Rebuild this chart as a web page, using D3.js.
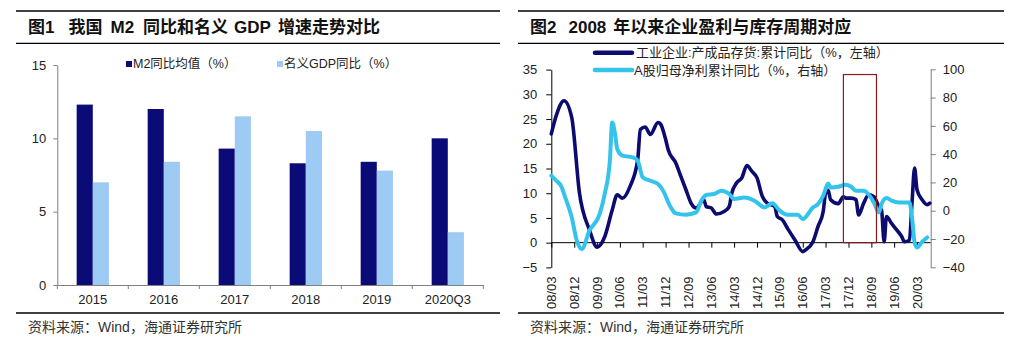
<!DOCTYPE html>
<html><head><meta charset="utf-8">
<script src="https://cdn.jsdelivr.net/npm/d3@7/dist/d3.min.js"></script>
<style>
html,body{margin:0;padding:0;background:#fff;}
svg{display:block;}
text{font-family:"Liberation Sans","Noto Sans CJK SC",Arial,sans-serif;}
</style></head>
<body>
<svg id="chart" width="1012" height="351"></svg>
<script>
// ---------- Chart 1 data ----------
const barCategories = ["2015","2016","2017","2018","2019","2020Q3"];
const m2Values  = [12.3, 12.0, 9.3, 8.3, 8.4, 10.0];
const gdpValues = [7.0, 8.4, 11.5, 10.5, 7.8, 3.6];
const barSeriesNames = ["M2同比均值（%）","名义GDP同比（%）"];
const barYTicks = [0,5,10,15];
const title1Parts = ["图1","我国","M2","同比和名义","GDP","增速走势对比"];

// ---------- Chart 2 data ----------
const invMonths = ["2008-03","2008-05","2008-08","2008-11","2009-02","2009-06","2009-09","2009-12","2010-03","2010-05","2010-07","2010-10","2011-01","2011-02","2011-04","2011-06","2011-09","2011-10","2011-12","2012-01","2012-04","2012-06","2012-08","2012-10","2012-12","2013-03","2013-04","2013-06","2013-08","2013-11","2014-01","2014-02","2014-04","2014-06","2014-08","2014-10","2014-12","2015-02","2015-04","2015-07","2015-08","2015-10","2015-12","2016-03","2016-06","2016-07","2016-10","2016-12","2017-02","2017-03","2017-04","2017-05","2017-08","2017-10","2017-11","2018-01","2018-03","2018-04","2018-06","2018-08","2018-10","2018-12","2019-01","2019-02","2019-03","2019-05","2019-07","2019-09","2019-10","2019-12","2020-01","2020-02","2020-03","2020-05","2020-07","2020-08"];
const invValues = [22.0,25.8,28.7,25.3,10.1,2.6,-0.9,1.2,6.6,9.7,9.0,11.4,16.8,22.9,23.4,21.9,24.3,24.0,20.9,18.8,16.1,13.4,10.7,8.0,7.0,8.7,7.3,7.0,5.8,6.3,7.3,10.0,12.1,13.1,15.6,14.4,13.1,9.4,8.0,7.3,5.3,4.6,2.9,0.5,-1.8,-1.5,0.2,3.3,6.3,10.0,10.6,8.7,7.9,9.3,9.0,9.0,8.7,5.6,8.0,9.7,9.3,7.3,6.6,0.2,5.3,3.9,2.6,1.2,0.2,0.5,8.0,15.1,10.7,8.7,7.7,8.0];

const profMonths = ["2008-03","2008-05","2008-07","2008-08","2008-11","2009-01","2009-03","2009-06","2009-10","2009-12","2010-02","2010-03","2010-04","2010-05","2010-07","2010-11","2011-01","2011-03","2011-06","2011-09","2011-11","2012-02","2012-04","2012-08","2012-12","2013-02","2013-04","2013-07","2013-10","2014-01","2014-03","2014-07","2014-11","2015-03","2015-06","2015-09","2015-12","2016-04","2016-06","2016-10","2016-12","2017-02","2017-04","2017-05","2017-08","2017-11","2018-01","2018-03","2018-06","2018-08","2018-10","2018-12","2019-01","2019-03","2019-05","2019-08","2019-12","2020-01","2020-02","2020-03","2020-05","2020-07"];
const profValues = [24.8,21.2,17.0,11.8,-4.7,-21.2,-27.1,-14.1,-2.4,11.8,35.4,62.4,55.4,43.6,38.9,37.7,35.4,23.6,21.2,18.9,14.1,2.4,-1.9,-2.8,-1.2,7.1,11.1,11.8,14.1,11.8,8.3,9.4,7.1,2.3,5.2,0.0,-2.8,-2.8,-5.9,2.3,4.7,10.6,19.3,16.5,17.0,18.4,17.0,14.1,14.1,11.3,5.9,-1.2,4.7,9.0,7.1,5.9,5.9,-4.7,-22.4,-26.0,-22.0,-18.9];

const lineTickLabels = ["08/03","08/12","09/09","10/06","11/03","11/12","12/09","13/06","14/03","14/12","15/09","16/06","17/03","17/12","18/09","19/06","20/03"];
const leftYTicks = [-5,0,5,10,15,20,25,30,35];
const rightYTicks = [-40,-20,0,20,40,60,80,100];
const lineSeriesNames = ["工业企业:产成品存货:累计同比（%，左轴）","A股归母净利累计同比（%，右轴）"];
const title2Parts = ["图2","2008","年以来企业盈利与库存周期对应"];
const highlightPeriod = ["2017-10","2018-11"];
const highlightRange = [0, 34];

// ---------- styles ----------
const NAVY_BAR = "#0b0b78", LIGHT_BAR = "#9dcbf3";
const NAVY_LINE = "#0c0c70", CYAN_LINE = "#34c3ea";

const svg = d3.select("#chart");

// ---------- headers & rules ----------
function header(x0, x1, tx, parts, gaps, sx) {
  [11, 43.3, 313].forEach(yy=>{
    svg.append("line").attr("x1",x0).attr("x2",x1).attr("y1",yy).attr("y2",yy).attr("stroke","#000").attr("stroke-width",1.3);
  });
  const t = svg.append("text").attr("x",tx).attr("y",27).attr("dy","0.35em").attr("font-size",17)
    .attr("font-weight","bold").attr("fill","#111");
  parts.forEach((p,i)=>{ t.append("tspan").attr("dx", i===0?0:gaps[i-1]).text(p); });
  svg.append("text").attr("x",sx).attr("y",327).attr("dy","0.35em").attr("font-size",14).attr("fill","#333").text("资料来源：Wind，海通证券研究所");
}
header(16, 500, 28, title1Parts, [14,8,9,6,7], 28);
header(518, 1004, 530, title2Parts, [12,7], 530);

// ---------- Chart 1: grouped bars ----------
{
  const x = d3.scaleBand().domain(barCategories).range([57.3, 483.3]).paddingInner(0).paddingOuter(0);
  const x1 = d3.scaleBand().domain([0,1]).range([0, x.bandwidth()]).paddingOuter(1.2).paddingInner(0);
  const y = d3.scaleLinear().domain([0,15]).range([285, 65]);
  const g = svg.append("g");
  const rows = barCategories.map((c,i)=>({c, v:[m2Values[i], gdpValues[i]]}));
  const colors = [NAVY_BAR, LIGHT_BAR];
  g.selectAll("g.grp").data(rows).join("g").attr("transform",d=>`translate(${x(d.c)},0)`)
    .selectAll("rect").data(d=>d.v.map((v,k)=>({v,k}))).join("rect")
    .attr("x",d=>x1(d.k)).attr("width",x1.bandwidth())
    .attr("y",d=>y(d.v)).attr("height",d=>y(0)-y(d.v)).attr("fill",d=>colors[d.k]);

  const ya = g.append("g").attr("transform","translate(57.3,0)")
    .call(d3.axisLeft(y).tickValues(barYTicks).tickSize(4).tickSizeOuter(0).tickPadding(7));
  ya.select(".domain").attr("stroke","#808080");
  ya.selectAll(".tick line").attr("stroke","#808080");
  ya.selectAll("text").attr("font-size",13).attr("fill","#222").attr("font-family","Liberation Sans, Arial");

  const xa = g.append("g").attr("transform",`translate(0,${y(0)})`)
    .call(d3.axisBottom(x).tickSize(0).tickSizeOuter(0).tickPadding(10));
  xa.select(".domain").attr("stroke","#808080");
  xa.selectAll("text").attr("font-size",13).attr("fill","#222").attr("font-family","Liberation Sans, Arial");
  const bounds = barCategories.map(c=>x(c)).concat([x.range()[1]]);
  g.selectAll("line.bt").data(bounds).join("line").attr("class","bt")
    .attr("x1",d=>d).attr("x2",d=>d).attr("y1",y(0)).attr("y2",y(0)+4).attr("stroke","#808080");

  // legend
  const lx = [126, 277];
  barSeriesNames.forEach((n,i)=>{
    svg.append("rect").attr("x",lx[i]).attr("y",61).attr("width",6).attr("height",6).attr("fill",colors[i]);
    svg.append("text").attr("x",lx[i]+7).attr("y",64).attr("dy","0.35em").attr("font-size",12.5).attr("fill","#222").text(n);
  });
}

// ---------- Chart 2: dual-axis lines ----------
{
  const parseM = d3.timeParse("%Y-%m");
  const parseT = d3.timeParse("%y/%m");
  const tickDates = lineTickLabels.map(parseT);
  const x = d3.scaleTime().domain([tickDates[0], tickDates[tickDates.length-1]]).range([551.3, 917]);
  const yL = d3.scaleLinear().domain([-5,35]).range([267.4, 69.6]);
  const yR = d3.scaleLinear().domain([-40,100]).range([267.3, 69.3]);
  const g = svg.append("g");

  const xa = g.append("g").attr("transform",`translate(0,${yL(0)})`)
    .call(d3.axisBottom(x).tickValues(tickDates).tickSize(5).tickSizeOuter(0).tickFormat(""));
  xa.select(".domain").attr("d",`M551.3,0H930.7`).attr("stroke","#000");
  xa.selectAll(".tick line").attr("stroke","#000");
  g.selectAll("text.xl").data(lineTickLabels).join("text").attr("class","xl")
    .attr("transform",(d,i)=>`translate(${x(tickDates[i])},276.5) rotate(-90)`)
    .attr("text-anchor","end").attr("dy","0.35em").attr("font-size",13).attr("fill","#222")
    .attr("font-family","Liberation Sans, Arial").text(d=>d);

  const la = g.append("g").attr("transform","translate(551.3,0)")
    .call(d3.axisLeft(yL).tickValues(leftYTicks).tickSize(5).tickSizeOuter(0).tickPadding(9));
  la.select(".domain").attr("stroke","#000");
  la.selectAll("text").attr("font-size",13).attr("fill","#222").attr("font-family","Liberation Sans, Arial");

  const ra = g.append("g").attr("transform","translate(930.7,0)")
    .call(d3.axisRight(yR).tickValues(rightYTicks).tickSize(5).tickSizeOuter(0).tickPadding(7));
  ra.select(".domain").attr("stroke","#808080");
  ra.selectAll(".tick line").attr("stroke","#808080");
  ra.selectAll("text").attr("font-size",13).attr("fill","#222").attr("font-family","Liberation Sans, Arial");

  const invData = invMonths.map((m,i)=>({d:parseM(m), v:invValues[i]}));
  const profData = profMonths.map((m,i)=>({d:parseM(m), v:profValues[i]}));
  const lineL = d3.line().x(d=>x(d.d)).y(d=>yL(d.v)).curve(d3.curveMonotoneX);
  const lineR = d3.line().x(d=>x(d.d)).y(d=>yR(d.v)).curve(d3.curveMonotoneX);
  g.append("path").datum(invData).attr("d",lineL).attr("fill","none").attr("stroke",NAVY_LINE)
    .attr("stroke-width",3.6).attr("stroke-linejoin","round").attr("stroke-linecap","round");
  g.append("path").datum(profData).attr("d",lineR).attr("fill","none").attr("stroke",CYAN_LINE)
    .attr("stroke-width",4).attr("stroke-linejoin","round").attr("stroke-linecap","round");

  const hx0 = x(parseM(highlightPeriod[0])), hx1 = x(parseM(highlightPeriod[1]));
  g.append("rect").attr("x",hx0).attr("y",yL(highlightRange[1])).attr("width",hx1-hx0)
    .attr("height",yL(highlightRange[0])-yL(highlightRange[1]))
    .attr("fill","none").attr("stroke","#8a1c1c").attr("stroke-width",1.2);

  const lc = [NAVY_LINE, CYAN_LINE], ly = [52.7, 70];
  lineSeriesNames.forEach((n,i)=>{
    svg.append("line").attr("x1",595).attr("x2",632).attr("y1",ly[i]).attr("y2",ly[i])
      .attr("stroke",lc[i]).attr("stroke-width",4.5).attr("stroke-linecap","round");
    svg.append("text").attr("x",i===0?636:634).attr("y",ly[i]).attr("dy","0.35em").attr("font-size",13).attr("fill","#222").text(n);
  });
}
</script>
</body></html>
